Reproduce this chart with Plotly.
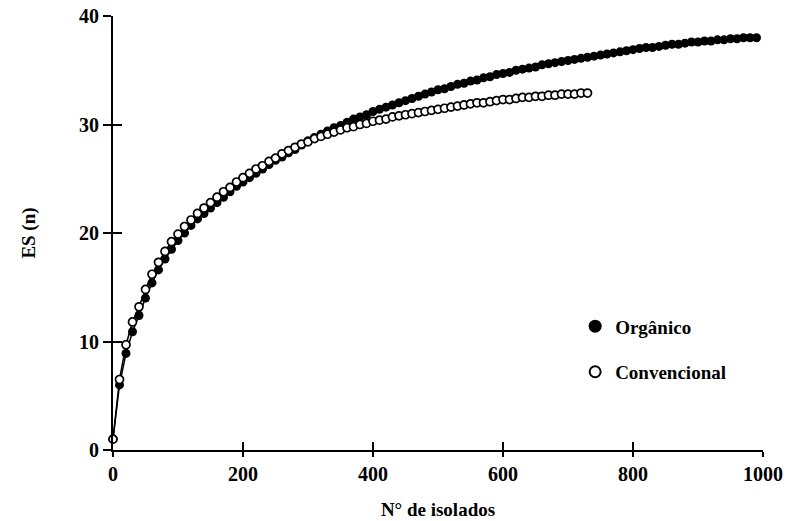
import plotly.graph_objects as go

# Number of isolates (x) for each series
x_org = list(range(0, 1000, 10))
x_conv = list(range(0, 740, 10))

# Expected species richness ES(n)
es_org = [
    1.0, 6.0, 8.9, 10.9, 12.4, 14.0, 15.4, 16.6, 17.6, 18.5,
    19.3, 20.0, 20.7, 21.3, 21.8, 22.3, 22.8, 23.3, 23.8, 24.3,
    24.7, 25.1, 25.5, 25.9, 26.3, 26.7, 27.0, 27.4, 27.7, 28.1,
    28.5, 28.8, 29.1, 29.4, 29.7, 29.9, 30.2, 30.5, 30.7, 30.9,
    31.2, 31.4, 31.6, 31.8, 32.0, 32.2, 32.4, 32.6, 32.8, 33.0,
    33.2, 33.3, 33.5, 33.7, 33.8, 34.0, 34.1, 34.3, 34.4, 34.6,
    34.7, 34.8, 35.0, 35.1, 35.2, 35.3, 35.5, 35.6, 35.7, 35.8,
    35.9, 36.0, 36.1, 36.2, 36.3, 36.4, 36.5, 36.6, 36.7, 36.8,
    36.9, 37.0, 37.1, 37.1, 37.2, 37.3, 37.4, 37.4, 37.5, 37.6,
    37.6, 37.7, 37.7, 37.8, 37.8, 37.9, 37.9, 38.0, 38.0, 38.0,
]
es_conv = [
    1.0, 6.5, 9.7, 11.8, 13.2, 14.8, 16.2, 17.3, 18.3, 19.2,
    19.9, 20.6, 21.2, 21.8, 22.3, 22.8, 23.3, 23.8, 24.2, 24.7,
    25.1, 25.5, 25.9, 26.2, 26.6, 26.9, 27.3, 27.6, 27.9, 28.2,
    28.4, 28.7, 28.9, 29.1, 29.3, 29.5, 29.7, 29.8, 30.0, 30.1,
    30.3, 30.4, 30.5, 30.7, 30.8, 30.9, 31.0, 31.1, 31.2, 31.3,
    31.4, 31.5, 31.6, 31.7, 31.8, 31.9, 32.0, 32.0, 32.1, 32.2,
    32.3, 32.3, 32.4, 32.5, 32.5, 32.6, 32.6, 32.7, 32.7, 32.8,
    32.8, 32.8, 32.9, 32.9,
]

x_ticks = [0, 200, 400, 600, 800, 1000]
y_ticks = [0, 10, 20, 30, 40]
series_names = ["<b>Orgânico</b>", "<b>Convencional</b>"]
x_title = "<b>N° de isolados</b>"
y_title = "<b>ES (n)</b>"

FONT = "Liberation Serif"

fig = go.Figure()

fig.add_trace(go.Scatter(
    x=x_org, y=es_org, mode="lines+markers", showlegend=False,
    line=dict(color="black", width=1.5),
    marker=dict(symbol="circle", size=9, color="black"),
    cliponaxis=False,
))
fig.add_trace(go.Scatter(
    x=x_conv, y=es_conv, mode="lines+markers", showlegend=False,
    line=dict(color="black", width=1.5),
    marker=dict(symbol="circle", size=8, color="white",
                line=dict(color="black", width=1.7)),
    cliponaxis=False,
))

# Legend entries (marker only)
fig.add_trace(go.Scatter(
    x=[None], y=[None], mode="markers", name=series_names[0],
    marker=dict(symbol="circle", size=13, color="black"),
    legend="legend",
))
fig.add_trace(go.Scatter(
    x=[None], y=[None], mode="markers", name=series_names[1],
    marker=dict(symbol="circle", size=11, color="white",
                line=dict(color="black", width=2)),
    legend="legend2",
))

# inside ticks via overlaid axes so ticks cross the axis lines
fig.add_trace(go.Scatter(x=[None], y=[None], xaxis="x2", yaxis="y2",
                         showlegend=False, hoverinfo="skip"))

tick_font = dict(family=FONT, size=20, color="black")
axis_common = dict(showgrid=False, zeroline=False, showline=True,
                   linecolor="black", linewidth=2, ticks="outside",
                   tickwidth=2, tickcolor="black", ticklabeloverflow="allow",
                   tickfont=tick_font, automargin=False)

fig.update_layout(
    width=789, height=521,
    margin=dict(l=113, r=26, t=16, b=71),
    plot_bgcolor="white", paper_bgcolor="white",
    font=dict(family=FONT, color="black"),
    xaxis=dict(range=[0, 1000], tickvals=x_ticks, ticktext=[f"<b>{t}</b>" for t in x_ticks],
               ticklen=5, **axis_common,
               title=dict(text=x_title, font=dict(family=FONT, size=19, color="black"),
                          standoff=19)),
    yaxis=dict(range=[0, 40], tickvals=y_ticks, ticktext=[f"<b>{t}</b>" for t in y_ticks],
               ticklen=8, **axis_common,
               title=dict(text=y_title, font=dict(family=FONT, size=19, color="black"),
                          standoff=38)),
    xaxis2=dict(range=[0, 1000], tickvals=x_ticks, overlaying="x", side="bottom",
                showgrid=False, zeroline=False, showline=False, ticks="inside",
                ticklen=8, tickwidth=2, tickcolor="black", showticklabels=False),
    yaxis2=dict(range=[0, 40], tickvals=y_ticks, overlaying="y", side="left",
                showgrid=False, zeroline=False, showline=False, ticks="inside",
                ticklen=9, tickwidth=2, tickcolor="black", showticklabels=False),
    legend=dict(x=0.711, y=0.285, xanchor="left", yanchor="middle",
                bgcolor="rgba(0,0,0,0)", itemwidth=30,
                font=dict(family=FONT, size=19, color="black")),
    legend2=dict(x=0.711, y=0.18, xanchor="left", yanchor="middle",
                 bgcolor="rgba(0,0,0,0)", itemwidth=30,
                 font=dict(family=FONT, size=19, color="black")),
)

# remove the page's default body margin so the figure fills the window exactly
fig.write_html("out.html", config={"displayModeBar": False},
               post_script="document.body.style.margin='0';")
